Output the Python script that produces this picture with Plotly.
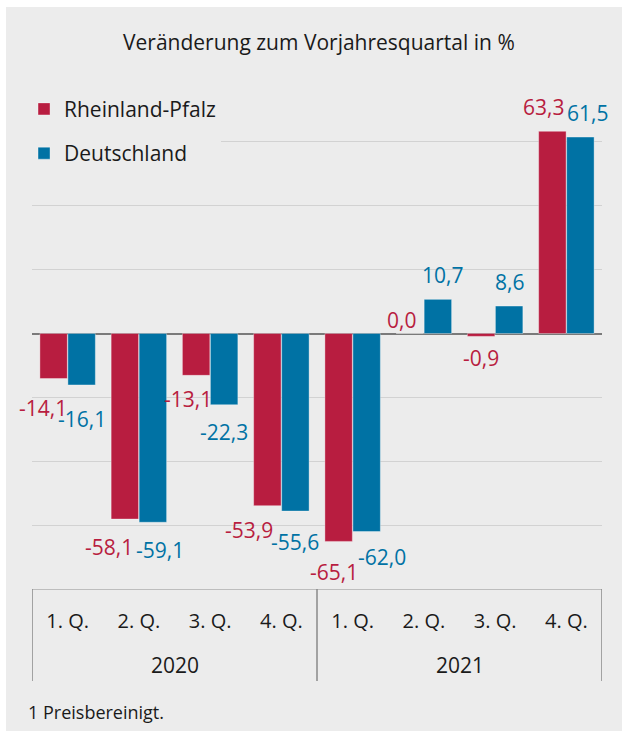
import plotly.graph_objects as go

years = ["2020"] * 4 + ["2021"] * 4
quarters = ["1. Q.", "2. Q.", "3. Q.", "4. Q."] * 2
year_labels = ["2020", "2021"]
rlp = [-14.1, -58.1, -13.1, -53.9, -65.1, 0.0, -0.9, 63.3]
de = [-16.1, -59.1, -22.3, -55.6, -62.0, 10.7, 8.6, 61.5]
series_names = ["Rheinland-Pfalz", "Deutschland"]
title_text = "Veränderung zum Vorjahresquartal in %"
footnote_text = "1 Preisbereinigt."

# label placement styling (pixel shifts relative to bar end)
rlp_dx = [-10.5, -15.5, -8, -18.5, -5, -8, 0, -8.5]
rlp_dy = [29, 28, 24, 24, 30.5, 14, 22, 24]
de_dx = [0, 7.5, 0, 0, 15.5, 5, 0, 7]
de_dy = [34, 28, 27, 31, 25.5, 24, 24.5, 24]

RED = "#b81d40"
BLUE = "#0072a4"
BG = "#ececec"
FONT = "Open Sans"
TXT = "#1a1a1a"

cats = [f"{y} {q}" for y, q in zip(years, quarters)]

fig = go.Figure()
for name, vals, col, grp in [(series_names[0], rlp, RED, "a"), (series_names[1], de, BLUE, "b")]:
    fig.add_trace(go.Bar(
        x=cats, y=vals, name=name, legendgroup=grp,
        marker=dict(color=col, line=dict(color="rgba(255,255,255,0.35)", width=1)),
    ))

def fmt(v):
    return f"{v:.1f}".replace(".", ",")

annotations = []
for vals, col, dxs, dys, off in [(rlp, RED, rlp_dx, rlp_dy, -14), (de, BLUE, de_dx, de_dy, 14)]:
    for j, v in enumerate(vals):
        sign = 1 if v >= 0 else -1
        annotations.append(dict(
            x=j, y=v, xref="x", yref="y", text=fmt(v), showarrow=False,
            xshift=off + dxs[j], yshift=sign * dys[j],
            font=dict(family=FONT, size=21, color=col),
            xanchor="center", yanchor="middle",
        ))

# year labels centered under their quarters, dividers at group bounds
shapes = []
n = len(cats)
bounds = [-0.5]
for yl in year_labels:
    idx = [i for i, y in enumerate(years) if y == yl]
    center = sum(idx) / len(idx)
    annotations.append(dict(
        x=center, y=-0.1487, xref="x", yref="paper", text=yl, showarrow=False,
        xanchor="center", yanchor="middle",
        font=dict(family=FONT, size=21, color=TXT),
    ))
    bounds.append(max(idx) + 0.5)
for b in bounds:
    shapes.append(dict(
        type="line", xref="x", yref="paper", x0=b, x1=b, y0=0, y1=-0.18,
        line=dict(color="#8a8a8a", width=1.5),
    ))

annotations.append(dict(
    x=0.5035, y=1.0705, xref="paper", yref="paper", text=title_text,
    showarrow=False, xanchor="center", yanchor="middle",
    font=dict(family=FONT, size=21, color=TXT),
))
annotations.append(dict(
    x=-0.0105, y=-0.2407, xref="paper", yref="paper", text=footnote_text,
    showarrow=False, xanchor="left", yanchor="middle",
    font=dict(family=FONT, size=18, color=TXT),
))

fig.update_layout(
    width=616, height=724,
    margin=dict(l=26, r=20, t=71, b=142),
    paper_bgcolor=BG,
    plot_bgcolor=BG,
    barmode="group", bargap=0.214, bargroupgap=0.02,
    font=dict(family=FONT, size=20, color=TXT),
    showlegend=True,
    legend=dict(
        x=-0.014, y=0.979, xanchor="left", yanchor="top",
        bgcolor=BG, borderwidth=0, traceorder="grouped", tracegroupgap=14,
        font=dict(family=FONT, size=21, color=TXT),
    ),
    annotations=annotations,
    shapes=shapes,
)
fig.update_yaxes(
    range=[-80, 80], dtick=20, showticklabels=False,
    showgrid=True, gridcolor="#d2d2d2", gridwidth=1,
    zeroline=True, zerolinecolor="#7a7a7a", zerolinewidth=2,
    showline=False,
)
fig.update_xaxes(
    type="category", range=[-0.5, n - 0.5],
    tickvals=cats, ticktext=quarters,
    showline=True, linecolor="#bdbdbd", linewidth=1,
    tickfont=dict(family=FONT, size=20, color=TXT),
    ticks="", showgrid=False, ticklabelstandoff=14,
)

page_js = (
    "var gd=document.getElementById('{plot_id}');"
    "document.documentElement.style.cssText='overflow:hidden;margin:0;padding:0;';"
    "document.body.style.cssText='overflow:hidden;margin:0;padding:0;';"
    "gd.style.position='fixed';gd.style.left='6px';gd.style.top='7px';"
)
fig.write_html("out.html", post_script=page_js)
